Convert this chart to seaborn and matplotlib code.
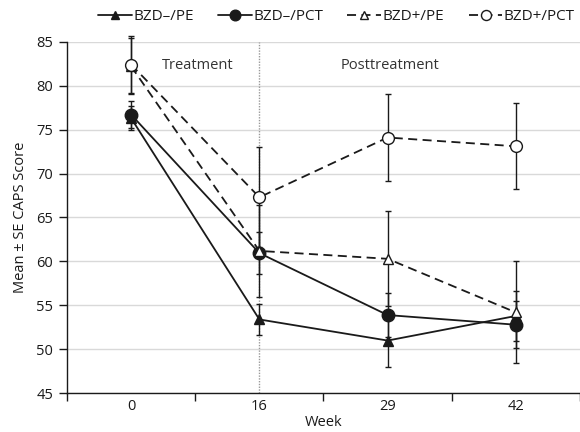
import numpy as np
import pandas as pd
import matplotlib
matplotlib.use("Agg")
import matplotlib.pyplot as plt
import seaborn as sns

weeks = ["0", "16", "29", "42"]
series = ["BZD–/PE", "BZD–/PCT", "BZD+/PE", "BZD+/PCT"]
bzdn_pe = [76.3, 53.4, 51.0, 53.8]
bzdn_pe_se = [1.4, 1.8, 3.0, 2.8]
bzdn_pct = [76.7, 60.95, 53.9, 52.8]
bzdn_pct_se = [1.5, 2.4, 2.5, 2.7]
bzdp_pe = [82.2, 61.2, 60.3, 54.2]
bzdp_pe_se = [3.2, 5.2, 5.4, 5.8]
bzdp_pct = [82.4, 67.3, 74.1, 73.1]
bzdp_pct_se = [3.2, 5.7, 4.9, 4.9]

sns.set_theme(style="white")
plt.rcParams['font.family'] = ['Open Sans', 'DejaVu Sans']

vals = [bzdn_pe, bzdn_pct, bzdp_pe, bzdp_pct]
ses = [bzdn_pe_se, bzdn_pct_se, bzdp_pe_se, bzdp_pct_se]
rows = []
for s, v, e in zip(series, vals, ses):
    for i, (w, y, se) in enumerate(zip(weeks, v, e)):
        rows.append(dict(series=s, pos=i, week=w, score=y, se=se))
df = pd.DataFrame(rows)

fig = plt.figure(figsize=(5.8, 4.32), dpi=100)
ax = fig.add_axes([0.1155, 0.0896, 0.8845, 0.8139])

dash = (0, (5, 3))
styles = {
    "BZD–/PE": dict(marker="^", ls="-", mfc="#1a1a1a", ms=7.5),
    "BZD–/PCT": dict(marker="o", ls="-", mfc="#1a1a1a", ms=9),
    "BZD+/PE": dict(marker="^", ls=dash, mfc="white", ms=7.5),
    "BZD+/PCT": dict(marker="o", ls=dash, mfc="white", ms=8.5),
}

for s in series:
    d = df[df.series == s]
    ax.errorbar(d.pos, d.score, yerr=d.se, fmt="none", ecolor="#1a1a1a",
                elinewidth=1.0, capsize=2.2, capthick=1.0, clip_on=False, zorder=3)

handles = []
for s in series:
    d = df[df.series == s]
    st = styles[s]
    sns.lineplot(data=d, x="pos", y="score", ax=ax, color="#1a1a1a",
                 linewidth=1.3, marker=st["marker"], markersize=st["ms"],
                 markerfacecolor=st["mfc"], markeredgecolor="#1a1a1a",
                 markeredgewidth=1.0, linestyle=st["ls"], zorder=4,
                 legend=False, clip_on=False)
    line = ax.lines[-1]
    if isinstance(st["ls"], tuple):
        line.set_dashes(st["ls"][1])
    h = matplotlib.lines.Line2D([], [], color="#1a1a1a", lw=1.3,
                                marker=st["marker"], ms=st["ms"] * 0.85,
                                mfc=st["mfc"], mec="#1a1a1a", mew=1.0,
                                ls=st["ls"])
    handles.append(h)

ax.set_ylim(45, 85)
ax.set_xlim(-0.5, 3.5)
ax.set_yticks(np.arange(45, 86, 5))
ax.yaxis.grid(True, color="#d9d9d9", lw=1.0)
ax.set_axisbelow(True)
ax.set_xticks(np.arange(-0.5, 3.6, 1.0))
ax.set_xticklabels([])
ax.set_xticks(range(len(weeks)), minor=True)
ax.set_xticklabels(weeks, minor=True)
ax.tick_params(axis="x", which="major", direction="out", length=6, width=1, color="#1a1a1a", bottom=True)
ax.tick_params(axis="x", which="minor", length=0, labelsize=10.5, pad=4, labelcolor="#1a1a1a")
ax.tick_params(axis="y", direction="out", length=6, width=1, color="#1a1a1a", left=True,
               labelsize=10.5, labelcolor="#1a1a1a", pad=4)
for sp in ["top", "right"]:
    ax.spines[sp].set_visible(False)
for sp in ["left", "bottom"]:
    ax.spines[sp].set_color("#1a1a1a")
    ax.spines[sp].set_linewidth(1.0)

ax.axvline(1, color="#999999", lw=1.0, ls=(0, (1, 1)), zorder=1)
ax.text(0.52, 82.3, "Treatment", ha="center", va="center", fontsize=10.5, color="#333333")
ax.text(2.02, 82.3, "Posttreatment", ha="center", va="center", fontsize=10.5, color="#333333")

ax.set_xlabel("Week", fontsize=10.5, color="#1a1a1a", labelpad=1)
ax.set_ylabel("Mean ± SE CAPS Score", fontsize=10.5, color="#1a1a1a", labelpad=6)

fig.legend(handles, series, loc="upper center", bbox_to_anchor=(0.58, 1.01), ncol=4,
           frameon=False, fontsize=11, handlelength=2.2, handletextpad=0.1,
           columnspacing=1.6, labelcolor="#1a1a1a")

fig.savefig("out.png", dpi=100)
